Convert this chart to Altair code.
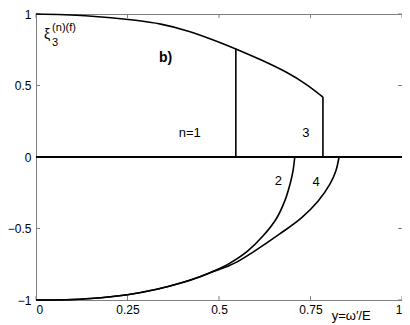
import altair as alt
import pandas as pd

# upper branch (n=1 and n=3)
up_x = [0.0, 0.135, 0.272, 0.341, 0.409, 0.477, 0.546, 0.614, 0.683, 0.737, 0.784]
up_y = [1.0, 0.988, 0.956, 0.929, 0.885, 0.826, 0.756, 0.68, 0.594, 0.51, 0.419]

# lower branches (n=2 and n=4), share a common start
c2_x = [0.0, 0.082, 0.15, 0.25, 0.33, 0.393, 0.45, 0.5, 0.53, 0.578, 0.62, 0.657, 0.68, 0.694, 0.702, 0.707]
c2_y = [-1.0, -0.998, -0.99, -0.963, -0.925, -0.883, -0.835, -0.782, -0.742, -0.658, -0.553, -0.43, -0.305, -0.19, -0.10, 0.0]
c4_x = [0.0, 0.082, 0.15, 0.25, 0.33, 0.393, 0.45, 0.5, 0.529, 0.548, 0.593, 0.666, 0.726, 0.771, 0.803, 0.819, 0.828]
c4_y = [-1.0, -0.998, -0.99, -0.963, -0.925, -0.883, -0.835, -0.787, -0.758, -0.735, -0.665, -0.538, -0.424, -0.308, -0.19, -0.10, 0.0]

# vertical drops
drop_x = [0.546, 0.784]
drop_top = [0.756, 0.419]

x_ticks = [0, 0.25, 0.5, 0.75, 1]
y_ticks = [-1, -0.5, 0, 0.5, 1]
x_labels = ["0", "0.25", "0.5", "0.75", "1"]
y_labels = ["−1", "−0.5", "0", "0.5", "1"]

labels = ["n=1", "3", "2", "4"]
label_x = [0.42, 0.737, 0.662, 0.765]
label_y = [0.165, 0.165, -0.165, -0.177]

W, H = 366, 286
FONT = "Liberation Sans"


def label_expr(vals, labs):
    e = "''"
    for v, l in reversed(list(zip(vals, labs))):
        e = f"(abs(datum.value - ({v})) < 1e-9 ? '{l}' : {e})"
    return e


xs = alt.Scale(domain=[0, 1], nice=False)
ys = alt.Scale(domain=[-1, 1], nice=False)

lines = pd.DataFrame(
    [{"x": a, "y": b, "s": "up"} for a, b in zip(up_x, up_y)]
    + [{"x": a, "y": b, "s": "c2"} for a, b in zip(c2_x, c2_y)]
    + [{"x": a, "y": b, "s": "c4"} for a, b in zip(c4_x, c4_y)]
)

base_x = alt.X("x:Q", scale=xs, axis=alt.Axis(values=x_ticks, title=None, domain=False, ticks=False,
                                               grid=False, labelFont=FONT, labelFontSize=12,
                                               labelColor="black", labelPadding=4,
                                               labelExpr=label_expr(x_ticks, x_labels)))
base_y = alt.Y("y:Q", scale=ys, axis=alt.Axis(values=y_ticks, title=None, domain=False, ticks=False,
                                               grid=False, labelFont=FONT, labelFontSize=12,
                                               labelColor="black", labelPadding=5,
                                               labelExpr=label_expr(y_ticks, y_labels)))

curves = alt.Chart(lines).mark_line(color="black", strokeWidth=1.6, interpolate="catmull-rom").encode(
    x=base_x, y=base_y, detail="s:N"
)

zero = alt.Chart(pd.DataFrame({"x": [0], "x2": [1], "y": [0]})).mark_rule(color="black", strokeWidth=2).encode(
    x=alt.X("x:Q", scale=xs), x2="x2:Q", y=alt.Y("y:Q", scale=ys)
)

drops = alt.Chart(pd.DataFrame({"x": drop_x, "y": [0, 0], "y2": drop_top})).mark_rule(
    color="black", strokeWidth=1.6).encode(
    x=alt.X("x:Q", scale=xs), y=alt.Y("y:Q", scale=ys), y2="y2:Q"
)

tdf = pd.DataFrame({"x": label_x, "y": label_y, "t": labels})
txt = alt.Chart(tdf).mark_text(font=FONT, fontSize=13, color="black").encode(
    x=alt.X("x:Q", scale=xs), y=alt.Y("y:Q", scale=ys), text="t:N"
)

bdf = pd.DataFrame({"x": [0.354], "y": [0.69], "t": ["b)"]})
btxt = alt.Chart(bdf).mark_text(font=FONT, fontSize=14, fontWeight="bold", color="black").encode(
    x=alt.X("x:Q", scale=xs), y=alt.Y("y:Q", scale=ys), text="t:N"
)

# y-axis symbol xi_3^(n)(f)
xi = alt.Chart(pd.DataFrame({"x": [0.022], "y": [0.85], "t": ["ξ"]})).mark_text(
    font=FONT, fontSize=14, color="black", align="left").encode(
    x=alt.X("x:Q", scale=xs), y=alt.Y("y:Q", scale=ys), text="t:N")
xi_sup = alt.Chart(pd.DataFrame({"x": [0.044], "y": [0.9], "t": ["(n)(f)"]})).mark_text(
    font=FONT, fontSize=11, color="black", align="left").encode(
    x=alt.X("x:Q", scale=xs), y=alt.Y("y:Q", scale=ys), text="t:N")
xi_sub = alt.Chart(pd.DataFrame({"x": [0.044], "y": [0.80], "t": ["3"]})).mark_text(
    font=FONT, fontSize=11, color="black", align="left").encode(
    x=alt.X("x:Q", scale=xs), y=alt.Y("y:Q", scale=ys), text="t:N")

xtitle = alt.Chart(pd.DataFrame({"x": [0.861], "y": [-1.11], "t": ["y=ω′/E"]})).mark_text(
    font=FONT, fontSize=13, color="black").encode(
    x=alt.X("x:Q", scale=xs), y=alt.Y("y:Q", scale=ys), text="t:N")

# inward ticks on all four sides
TL = 4
tick_col = "#808080"
bt = alt.Chart(pd.DataFrame({"x": x_ticks})).mark_rule(color=tick_col, strokeWidth=1).encode(
    x=alt.X("x:Q", scale=xs), y=alt.value(H), y2=alt.value(H - TL))
tt = alt.Chart(pd.DataFrame({"x": x_ticks})).mark_rule(color=tick_col, strokeWidth=1).encode(
    x=alt.X("x:Q", scale=xs), y=alt.value(0), y2=alt.value(TL))
lt = alt.Chart(pd.DataFrame({"y": y_ticks})).mark_rule(color=tick_col, strokeWidth=1).encode(
    y=alt.Y("y:Q", scale=ys), x=alt.value(0), x2=alt.value(TL))
rt = alt.Chart(pd.DataFrame({"y": y_ticks})).mark_rule(color=tick_col, strokeWidth=1).encode(
    y=alt.Y("y:Q", scale=ys), x=alt.value(W), x2=alt.value(W - TL))

chart = alt.layer(bt, tt, lt, rt, zero, drops, curves, txt, btxt, xi, xi_sup, xi_sub, xtitle).properties(
    width=W, height=H,
    autosize=alt.AutoSizeParams(type="none"),
    padding={"left": 28, "top": 6, "right": 0, "bottom": 25},
    background="white",
).configure_view(stroke="#808080", strokeWidth=1)

chart.save("out.html", embed_options={"renderer": "svg", "actions": False})
